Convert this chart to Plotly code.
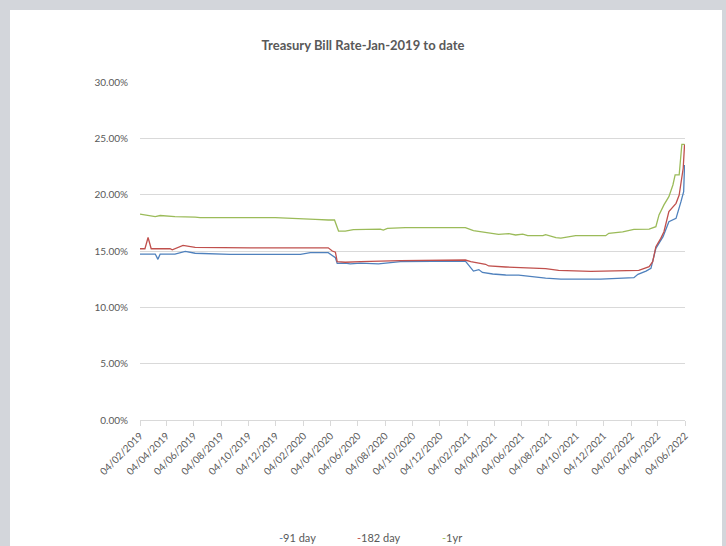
import plotly.graph_objects as go

# ---- data (percent) ----
dates_91 = ["2019-02-04","2019-03-10","2019-03-16","2019-03-21","2019-04-23","2019-05-16","2019-06-07",
            "2019-08-24","2020-01-28","2020-02-19","2020-03-30","2020-04-10","2020-04-15","2020-04-19",
            "2020-05-07","2020-05-18","2020-06-10","2020-07-20","2020-09-07","2021-01-30","2021-02-11",
            "2021-02-17","2021-03-01","2021-03-09","2021-04-01","2021-04-30","2021-05-29","2021-06-29",
            "2021-07-28","2021-08-31","2021-11-28","2022-02-10","2022-02-19","2022-03-09","2022-03-20",
            "2022-03-31","2022-04-16","2022-04-29","2022-05-15","2022-05-26","2022-06-01","2022-06-03"]
rate_91 = [14.73,14.73,14.26,14.73,14.73,14.97,14.80,
           14.70,14.70,14.85,14.85,14.50,14.40,13.90,
           13.93,13.85,13.93,13.85,14.05,14.11,13.46,
           13.22,13.35,13.10,12.96,12.87,12.85,12.69,
           12.60,12.51,12.51,12.63,12.93,13.22,13.46,
           15.24,16.27,17.60,17.90,19.38,20.26,22.63]

dates_182 = ["2019-02-04","2019-02-15","2019-02-22","2019-03-01","2019-04-12","2019-04-17","2019-05-11",
             "2019-05-22","2019-06-07","2019-10-08","2020-01-28","2020-03-30","2020-04-08","2020-04-15",
             "2020-04-19","2020-05-07","2020-06-10","2020-09-07","2021-01-30","2021-02-11","2021-03-16",
             "2021-03-23","2021-04-30","2021-05-29","2021-06-20","2021-07-28","2021-08-26","2021-11-06",
             "2022-02-21","2022-03-16","2022-03-24","2022-03-31","2022-04-11","2022-04-18","2022-04-29",
             "2022-05-15","2022-05-22","2022-05-31","2022-06-03"]
rate_182 = [15.20,15.20,16.20,15.20,15.20,15.10,15.50,
            15.45,15.33,15.28,15.30,15.28,15.00,14.90,
            14.05,14.00,14.05,14.15,14.20,14.05,13.82,
            13.67,13.58,13.55,13.49,13.43,13.28,13.20,
            13.28,13.61,14.05,15.38,16.12,16.71,18.49,
            19.23,19.97,22.34,24.47]

dates_1yr = ["2019-02-04","2019-02-26","2019-03-10","2019-03-21","2019-04-23","2019-06-07","2019-06-18",
             "2019-12-03","2020-01-28","2020-03-01","2020-03-30","2020-04-13","2020-04-22","2020-05-07",
             "2020-05-25","2020-07-24","2020-07-31","2020-08-09","2020-09-18","2021-01-30","2021-02-17",
             "2021-04-14","2021-05-07","2021-05-22","2021-06-07","2021-06-18","2021-07-22","2021-07-28",
             "2021-08-20","2021-08-31","2021-10-03","2021-12-09","2021-12-16","2022-01-16","2022-02-10",
             "2022-03-16","2022-03-31","2022-04-07","2022-04-18","2022-04-29","2022-05-08","2022-05-13",
             "2022-05-22","2022-05-28","2022-06-03"]
rate_1yr = [18.28,18.17,18.05,18.15,18.05,18.00,17.96,
            17.96,17.90,17.80,17.75,17.75,16.77,16.77,
            16.90,16.95,16.85,17.00,17.07,17.07,16.80,
            16.48,16.55,16.42,16.50,16.36,16.36,16.45,
            16.18,16.15,16.36,16.36,16.57,16.70,16.92,
            16.95,17.16,18.20,19.09,19.82,20.86,21.75,
            21.75,24.47,24.47]

tick_dates = ["2019-02-04","2019-04-04","2019-06-04","2019-08-04","2019-10-04","2019-12-04",
              "2020-02-04","2020-04-04","2020-06-04","2020-08-04","2020-10-04","2020-12-04",
              "2021-02-04","2021-04-04","2021-06-04","2021-08-04","2021-10-04","2021-12-04",
              "2022-02-04","2022-04-04","2022-06-04"]
tick_labels = ["04/02/2019","04/04/2019","04/06/2019","04/08/2019","04/10/2019","04/12/2019",
               "04/02/2020","04/04/2020","04/06/2020","04/08/2020","04/10/2020","04/12/2020",
               "04/02/2021","04/04/2021","04/06/2021","04/08/2021","04/10/2021","04/12/2021",
               "04/02/2022","04/04/2022","04/06/2022"]
y_ticks = [0, 5, 10, 15, 20, 25, 30]
y_tick_labels = ["0.00%", "5.00%", "10.00%", "15.00%", "20.00%", "25.00%", "30.00%"]

series_names = ["91 day", "182 day", "1yr"]
colors = ["#4F81BD", "#C0504D", "#9BBB59"]

W, H = 726, 546
L, R, T, B = 140, 41, 82, 126
pw, ph = W - L - R, H - T - B

def px_x(p):
    return (p - L) / pw

def px_y(p):
    return (H - B - p) / ph

fig = go.Figure()
for name, d, v, c in zip(series_names, [dates_91, dates_182, dates_1yr],
                         [rate_91, rate_182, rate_1yr], colors):
    fig.add_trace(go.Scatter(x=d, y=v, mode="lines", name=name,
                             line=dict(color=c, width=1.3), showlegend=False))

font_fam = "Lato, 'Open Sans', sans-serif"
grey_txt = "#595959"

fig.update_layout(
    width=W, height=H,
    margin=dict(l=L, r=R, t=T, b=B),
    paper_bgcolor="#d3d6db",
    plot_bgcolor="white",
    font=dict(family=font_fam, color=grey_txt, size=10),
    title=dict(text="<b>Treasury Bill Rate-Jan-2019 to date</b>",
               x=(363) / W, xanchor="center", xref="container",
               y=1 - 45 / H, yanchor="middle", yref="container",
               font=dict(size=13, color=grey_txt, family=font_fam)),
    xaxis=dict(type="date", range=["2019-02-04", "2022-06-04"],
               tickvals=tick_dates, ticktext=tick_labels, tickangle=-45,
               showgrid=False, showline=True, linecolor="#d9d9d9", linewidth=1,
               ticks="outside", ticklen=5, tickcolor="#d9d9d9",
               tickfont=dict(size=10, color=grey_txt), zeroline=False),
    yaxis=dict(range=[0, 30], tickvals=y_ticks, ticktext=y_tick_labels,
               showgrid=True, gridcolor="#d9d9d9", gridwidth=1, zeroline=False,
               showline=False, ticks="", ticklabelstandoff=11,
               tickfont=dict(size=10, color=grey_txt)),
    shapes=[dict(type="rect", xref="paper", yref="paper", layer="below",
                 x0=px_x(10), x1=px_x(722), y0=px_y(H + 2), y1=px_y(10),
                 fillcolor="white", line=dict(width=0))],
)

leg_x = [277, 355, 440]
for name, c, lx in zip(series_names, colors, leg_x):
    fig.add_annotation(text=f"<span style='color:{c}'>-</span>{name}",
                       xref="paper", yref="paper", x=px_x(lx), y=px_y(537),
                       xanchor="left", yanchor="middle", showarrow=False,
                       font=dict(size=11, color=grey_txt, family=font_fam))

fig.write_html("out.html")
